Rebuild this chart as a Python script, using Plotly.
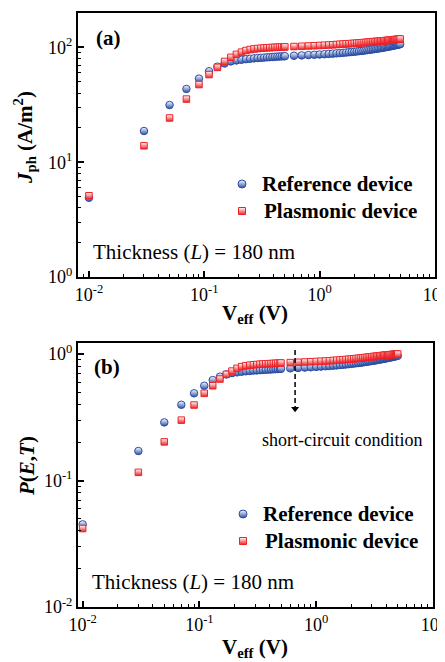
import plotly.graph_objects as go

# ---------------- data ----------------
v_eff = [0.01, 0.03, 0.05, 0.07, 0.09, 0.11, 0.13, 0.15, 0.17, 0.19, 0.21, 0.23, 0.25,
         0.27, 0.29, 0.31, 0.33, 0.35, 0.37, 0.39, 0.41, 0.43, 0.45, 0.47, 0.49,
         0.5, 0.6, 0.7, 0.8, 0.9, 1.0, 1.1, 1.2, 1.3, 1.4, 1.5, 1.6, 1.7, 1.8, 1.9,
         2.0, 2.1, 2.2, 2.3, 2.4, 2.5, 2.6, 2.7, 2.8, 2.9, 3.0, 3.1, 3.2, 3.3, 3.4,
         3.5, 3.6, 3.7, 3.8, 3.9, 4.0, 4.1, 4.2, 4.3, 4.4, 4.5, 4.6, 4.7, 4.8, 4.9, 5.0]

jph_reference = [4.9, 18.7, 31.5, 43.5, 53.5, 62.0, 68.0, 72.5, 75.5, 77.0, 78.0, 79.0, 79.7,
                 80.3, 80.8, 81.2, 81.6, 82.0, 82.3, 82.6, 82.9, 83.2, 83.4, 83.6, 83.8,
                 83.9, 84.6, 85.2, 85.8, 86.3, 86.8, 87.3, 87.8, 88.3, 88.8, 89.3, 89.8, 90.3, 90.8, 91.3,
                 91.8, 92.3, 92.8, 93.3, 93.8, 94.3, 94.8, 95.3, 95.8, 96.3, 96.8, 97.3, 97.8, 98.3, 98.8,
                 99.3, 99.8, 100.3, 100.8, 101.3, 101.8, 102.3, 102.8, 103.3, 103.8, 104.3, 104.8, 105.3, 105.8, 106.3, 106.8]

jph_plasmonic = [5.1, 13.9, 24.3, 35.5, 47.5, 58.0, 67.0, 75.5, 82.0, 87.0, 91.0, 94.0, 95.8,
                 97.0, 97.8, 98.4, 98.9, 99.3, 99.6, 99.9, 100.2, 100.4, 100.6, 100.8, 101.0,
                 101.1, 101.8, 102.4, 103.0, 103.5, 104.0, 104.5, 105.0, 105.5, 106.0, 106.5, 107.0, 107.4, 107.8, 108.2,
                 108.6, 109.0, 109.4, 109.8, 110.2, 110.6, 111.0, 111.4, 111.8, 112.2, 112.5, 112.8, 113.1, 113.4, 113.7,
                 114.0, 114.3, 114.6, 114.9, 115.2, 115.5, 115.8, 116.1, 116.4, 116.7, 117.0, 117.3, 117.6, 117.9, 118.2, 118.5]

pet_reference = [0.045, 0.171, 0.288, 0.397, 0.489, 0.561, 0.622, 0.662, 0.690, 0.706, 0.716, 0.724, 0.730,
                 0.735, 0.739, 0.742, 0.745, 0.748, 0.751, 0.753, 0.755, 0.757, 0.759, 0.761, 0.763,
                 0.764, 0.770, 0.776, 0.781, 0.786, 0.791, 0.795, 0.800, 0.804, 0.809, 0.813, 0.818, 0.822, 0.827, 0.831,
                 0.836, 0.840, 0.845, 0.849, 0.854, 0.858, 0.863, 0.867, 0.872, 0.876, 0.881, 0.885, 0.890, 0.894, 0.899,
                 0.903, 0.907, 0.912, 0.916, 0.921, 0.925, 0.929, 0.934, 0.938, 0.942, 0.947, 0.951, 0.955, 0.960, 0.964, 0.968]

pet_plasmonic = [0.0417, 0.116, 0.202, 0.300, 0.395, 0.489, 0.561, 0.634, 0.690, 0.733, 0.770, 0.795, 0.808,
                 0.816, 0.822, 0.826, 0.830, 0.833, 0.836, 0.838, 0.840, 0.842, 0.844, 0.846, 0.848,
                 0.849, 0.855, 0.860, 0.865, 0.869, 0.873, 0.877, 0.881, 0.885, 0.889, 0.893, 0.897, 0.901, 0.905, 0.909,
                 0.913, 0.917, 0.921, 0.925, 0.929, 0.933, 0.937, 0.941, 0.945, 0.949, 0.952, 0.955, 0.958, 0.961, 0.964,
                 0.967, 0.970, 0.973, 0.976, 0.979, 0.981, 0.983, 0.985, 0.987, 0.989, 0.991, 0.993, 0.995, 0.997, 0.999, 1.0]

sc_voltage = [0.66, 0.66]          # short-circuit marker line
sc_pet = [1.075, 0.37]

x_tickvals = [0.01, 0.1, 1, 10]
x_ticktext = ["10<sup>-2</sup>", "10<sup>-1</sup>", "10<sup>0</sup>", "10<sup>1</sup>"]
ya_tickvals = [1, 10, 100]
ya_ticktext = ["10<sup>0</sup>", "10<sup>1</sup>", "10<sup>2</sup>"]
yb_tickvals = [0.01, 0.1, 1]
yb_ticktext = ["10<sup>-2</sup>", "10<sup>-1</sup>", "10<sup>0</sup>"]

# ---------------- style ----------------
BLUE = "#2a4ea6"
RED = "#ec2327"
SERIF = "Liberation Serif, Times New Roman, serif"
OFF = 8                      # page body margin in the browser
W, H = 445 - OFF, 662 - OFF


def px(x):
    return (x - OFF) / W


def py(y):
    return 1 - (y - OFF) / H


def half_marker(symbol, color, size):
    return dict(symbol=symbol, size=size, color="white",
                gradient=dict(type="vertical", color=color),
                line=dict(color=color, width=1))


minor_vals = [m * 10 ** k for k in range(-3, 3) for m in range(2, 10)]

fig = go.Figure()

# panel (a)
fig.add_trace(go.Scatter(x=v_eff, y=jph_reference, mode="markers", marker=half_marker("circle", BLUE, 7.5),
                         xaxis="x", yaxis="y", name="Reference device"))
fig.add_trace(go.Scatter(x=v_eff, y=jph_plasmonic, mode="markers", marker=half_marker("square", RED, 6.5),
                         xaxis="x", yaxis="y", name="Plasmonic device"))
# panel (b)
fig.add_trace(go.Scatter(x=v_eff, y=pet_reference, mode="markers", marker=half_marker("circle", BLUE, 7.5),
                         xaxis="x2", yaxis="y2", name="Reference device"))
fig.add_trace(go.Scatter(x=v_eff, y=pet_plasmonic, mode="markers", marker=half_marker("square", RED, 6.5),
                         xaxis="x2", yaxis="y2", name="Plasmonic device"))
# short-circuit dashed line with arrow head
fig.add_trace(go.Scatter(x=sc_voltage, y=sc_pet, mode="lines",
                         line=dict(color="black", width=1.5, dash="5px,3px"),
                         xaxis="x2", yaxis="y2", hoverinfo="skip"))
fig.add_trace(go.Scatter(x=sc_voltage[1:], y=sc_pet[1:], mode="markers",
                         marker=dict(symbol="triangle-down", size=7, color="black", line=dict(width=0)),
                         xaxis="x2", yaxis="y2", hoverinfo="skip"))


def axis(rng, domain, anchor, tv, tt):
    return dict(type="log", range=rng, domain=domain, anchor=anchor, automargin=False,
                showline=True, linewidth=2, linecolor="black", mirror=True,
                ticks="inside", ticklen=6, tickwidth=1.5, tickcolor="black",
                tickmode="array", tickvals=tv, ticktext=tt, ticklabeloverflow="allow",
                tickfont=dict(family=SERIF, size=18, color="black"),
                showgrid=False, zeroline=False,
                minor=dict(ticks="inside", ticklen=3, tickwidth=1, tickcolor="black",
                           tickmode="array", tickvals=minor_vals, showgrid=False))


fig.update_layout(
    width=W, height=H, margin=dict(l=0, r=0, t=0, b=0, autoexpand=False),
    paper_bgcolor="white", plot_bgcolor="rgba(0,0,0,0)", showlegend=False,
    xaxis=axis([-2.095, 1.001], [px(78), px(435)], "y", x_tickvals, x_ticktext),
    yaxis=axis([0, 2.30], [py(277), py(13)], "x", ya_tickvals, ya_ticktext),
    xaxis2=axis([-2.04, 1.001], [px(78), px(433)], "y2", x_tickvals, x_ticktext),
    yaxis2=axis([-2.0, 0.087], [py(607), py(343)], "x2", yb_tickvals, yb_ticktext),
)

ann = []


def text(x, y, s, size, xanchor="left", angle=0):
    ann.append(dict(x=px(x), y=py(y), xref="paper", yref="paper", text=s, showarrow=False,
                    xanchor=xanchor, yanchor="middle", textangle=angle,
                    font=dict(family=SERIF, size=size, color="black")))


# panel labels
text(108, 38, "<b>(a)</b>", 21, "center")
text(107, 367, "<b>(b)</b>", 21, "center")
# thickness
text(91, 252, "Thickness (<i>L</i>) = 180 nm", 21)
text(90, 582, "Thickness (<i>L</i>) = 180 nm", 21)
# legends (text part)
for (y1, y2, xt1, xt2) in [(184, 211, 260, 262), (514, 541, 261, 263)]:
    text(xt1, y1, "<b>Reference device</b>", 21)
    text(xt2, y2, "<b>Plasmonic device</b>", 21)
# short-circuit text
text(260, 440, "short-circuit condition", 18)
# axis titles
text(255, 314, "<b>V<sub>eff</sub> (V)</b>", 21, "center")
text(255, 648, "<b>V<sub>eff</sub> (V)</b>", 21, "center")
text(24, 138, "<b><i>J</i><sub>ph</sub> (A/m<sup>2</sup>)</b>", 21, "center", -90)
text(27, 466, "<b><i>P</i>(<i>E</i>,<i>T</i>)</b>", 21, "center", -90)

fig.update_layout(annotations=ann)

# legend keys on an invisible paper-spanning axis pair
fig.add_trace(go.Scatter(x=[px(242), px(243)], y=[py(184), py(514)], mode="markers",
                         marker=half_marker("circle", BLUE, 8), xaxis="x3", yaxis="y3", hoverinfo="skip"))
fig.add_trace(go.Scatter(x=[px(242), px(243)], y=[py(211), py(541)], mode="markers",
                         marker=half_marker("square", RED, 7), xaxis="x3", yaxis="y3", hoverinfo="skip"))
fig.update_layout(
    xaxis3=dict(domain=[0, 1], range=[0, 1], visible=False, anchor="y3", automargin=False),
    yaxis3=dict(domain=[0, 1], range=[0, 1], visible=False, anchor="x3", automargin=False),
)

fig.write_html("out.html")
